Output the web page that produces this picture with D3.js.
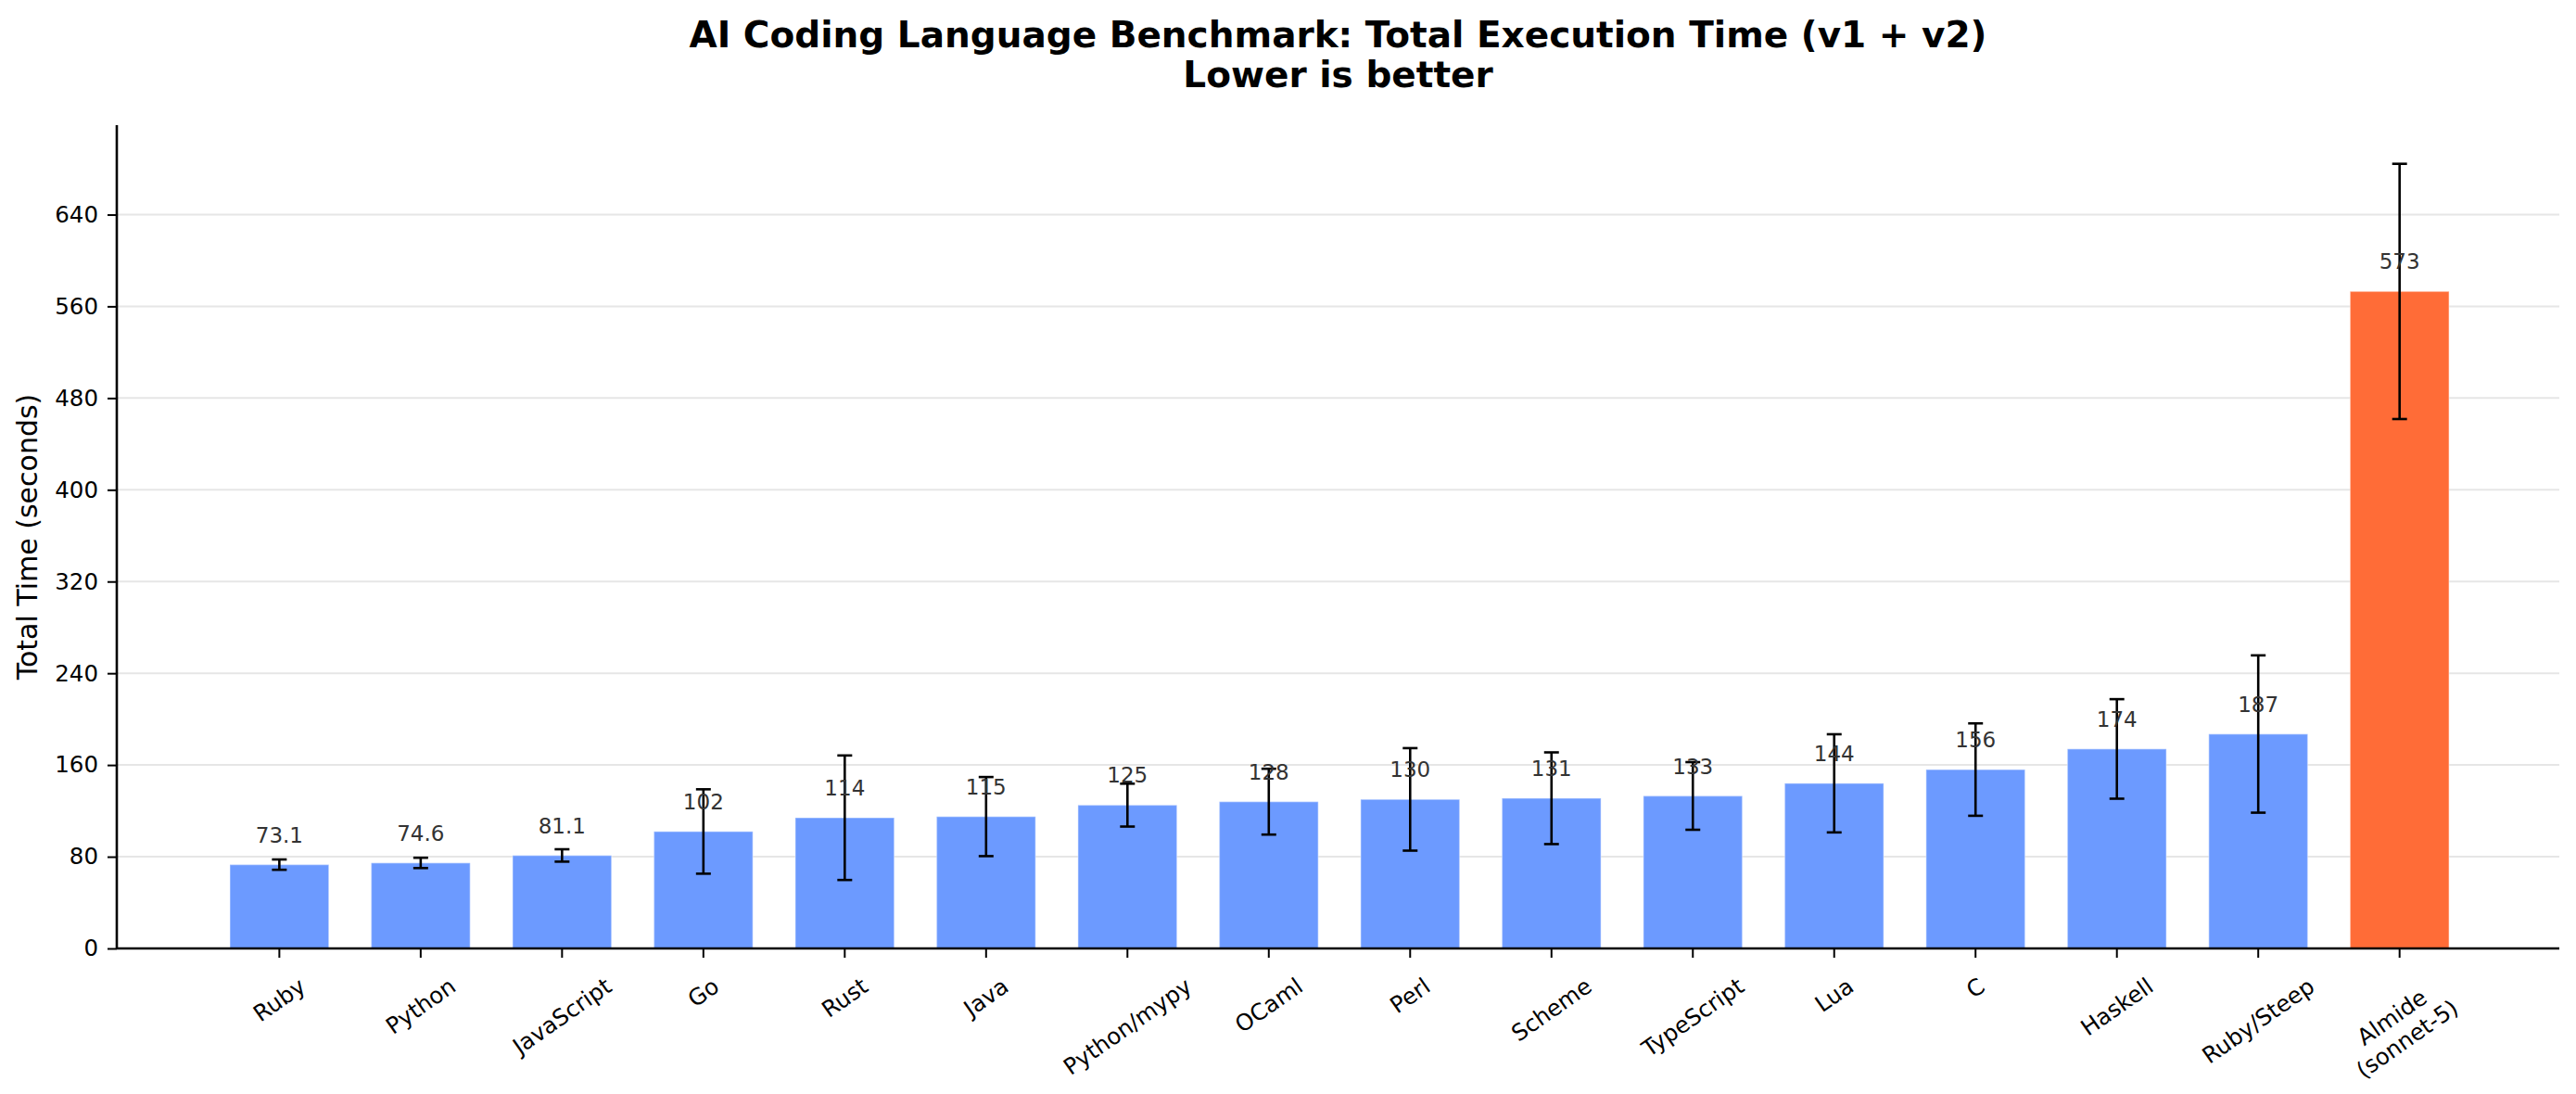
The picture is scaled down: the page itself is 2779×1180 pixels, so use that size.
<!DOCTYPE html>
<html lang="en">
<head>
    <meta charset="UTF-8">
    <title>AI Coding Language Benchmark</title>
    <script src="https://d3js.org/d3.v7.min.js"></script>
    <style>
        body { margin: 0; background: #fff; }
        text { font-family: "DejaVu Sans", sans-serif; }
    </style>
</head>
<body>
    <div id="chart"></div>

    <script>
        // Chart data
        const languages = ["Ruby", "Python", "JavaScript", "Go", "Rust", "Java", "Python/mypy", "OCaml",
                           "Perl", "Scheme", "TypeScript", "Lua", "C", "Haskell", "Ruby/Steep", "Almide\n(sonnet-5)"];
        const totalTimes = [73.1, 74.6, 81.1, 102, 114, 115, 125, 128, 130, 131, 133, 144, 156, 174, 187, 573];
        const errors = [4.5, 4.5, 5.4, 36.8, 54.3, 34.5, 18.7, 28.7, 44.7, 40, 29.5, 42.8, 40.3, 43.4, 68.6, 111.3];
        const yTicks = [0, 80, 160, 240, 320, 400, 480, 560, 640];
        const highlighted = "Almide\n(sonnet-5)";

        const W = 2779, H = 1180;
        const margin = { top: 135, right: 18, bottom: 157, left: 126 };
        const width = W - margin.left - margin.right,
              height = H - margin.top - margin.bottom;

        const svg = d3.select("#chart").append("svg")
            .attr("width", W)
            .attr("height", H);

        const g = svg.append("g")
            .attr("transform", `translate(${margin.left},${margin.top})`);

        // x is a linear scale over bar index (matplotlib-style limits)
        const x = d3.scaleLinear().domain([-1.15, 16.13]).range([0, width]);
        const y = d3.scaleLinear().domain([0, 718]).range([height, 0]);
        const barW = x(0.7) - x(0);

        // Gridlines (behind bars)
        g.append("g").selectAll("line")
            .data(yTicks.slice(1))
            .join("line")
            .attr("x1", 0).attr("x2", width)
            .attr("y1", d => y(d)).attr("y2", d => y(d))
            .attr("stroke", "#e6e6e6")
            .attr("stroke-width", 2);

        // Bars
        g.append("g").selectAll("rect")
            .data(totalTimes)
            .join("rect")
            .attr("x", (d, i) => x(i) - barW / 2)
            .attr("y", d => y(d))
            .attr("width", barW)
            .attr("height", d => y(0) - y(d))
            .attr("fill", (d, i) => languages[i] === highlighted ? "#ff6c37" : "#6c9aff")
            .attr("stroke", "#ffffff")
            .attr("stroke-opacity", 0.35)
            .attr("stroke-width", 1.5);

        // Error bars
        const capHalf = 8;
        const eb = g.append("g").attr("stroke", "#000").attr("stroke-width", 2.6);
        totalTimes.forEach((v, i) => {
            const cx = x(i), lo = y(v - errors[i]), hi = y(v + errors[i]);
            eb.append("line").attr("x1", cx).attr("x2", cx).attr("y1", lo).attr("y2", hi);
            eb.append("line").attr("x1", cx - capHalf).attr("x2", cx + capHalf).attr("y1", lo).attr("y2", lo);
            eb.append("line").attr("x1", cx - capHalf).attr("x2", cx + capHalf).attr("y1", hi).attr("y2", hi);
        });

        // Value labels above each bar
        g.append("g").selectAll("text")
            .data(totalTimes)
            .join("text")
            .attr("x", (d, i) => x(i))
            .attr("y", d => y(d) - 24)
            .attr("text-anchor", "middle")
            .attr("font-size", 23)
            .attr("fill", "#333333")
            .text(d => d < 100 ? d.toFixed(1) : d3.format("d")(d));

        // Y axis
        const yAxis = g.append("g")
            .call(d3.axisLeft(y).tickValues(yTicks).tickSize(10).tickPadding(10).tickFormat(d3.format("d")));
        yAxis.select(".domain").attr("stroke", "#000").attr("stroke-width", 2.6).attr("d", `M0,${height}V0`);
        yAxis.selectAll(".tick line").attr("stroke", "#000").attr("stroke-width", 2);
        yAxis.selectAll(".tick text").attr("font-size", 24.5).attr("fill", "#000")
            .attr("font-family", "DejaVu Sans");

        // X axis line and ticks
        const xAxis = g.append("g").attr("transform", `translate(0,${height})`);
        xAxis.append("line").attr("x1", 0).attr("x2", width)
            .attr("stroke", "#000").attr("stroke-width", 2.6);
        xAxis.selectAll(".xt").data(languages).join("line")
            .attr("x1", (d, i) => x(i)).attr("x2", (d, i) => x(i))
            .attr("y1", 0).attr("y2", 10)
            .attr("stroke", "#000").attr("stroke-width", 2);

        // Rotated x tick labels, centred on the tick (matplotlib ha="center", rotation=35)
        const rot = 35, rad = rot * Math.PI / 180, fs = 24.5, lh = fs * 1.17, topGap = 26;
        languages.forEach((name, i) => {
            const lines = name.split("\n");
            const t = xAxis.append("text")
                .attr("text-anchor", "middle")
                .attr("font-size", fs)
                .attr("fill", "#000");
            lines.forEach((ln, k) => {
                t.append("tspan")
                    .attr("x", 0)
                    .attr("y", (k - (lines.length - 1) / 2) * lh)
                    .attr("dominant-baseline", "central")
                    .text(ln);
            });
            const L = d3.max(t.selectAll("tspan").nodes(), n => n.getComputedTextLength());
            const h = lines.length * lh;
            const bh = L * Math.sin(rad) + h * Math.cos(rad);
            t.attr("transform", `translate(${x(i)},${topGap + bh / 2}) rotate(${-rot})`);
        });

        // Y axis label
        svg.append("text")
            .attr("transform", `translate(40,${margin.top + height / 2}) rotate(-90)`)
            .attr("text-anchor", "middle")
            .attr("font-size", 30)
            .attr("fill", "#000")
            .text("Total Time (seconds)");

        // Title
        const title = svg.append("text")
            .attr("text-anchor", "middle")
            .attr("font-size", 39)
            .attr("font-weight", "bold")
            .attr("fill", "#000");
        title.append("tspan").attr("x", margin.left + width / 2).attr("y", 51)
            .text("AI Coding Language Benchmark: Total Execution Time (v1 + v2)");
        title.append("tspan").attr("x", margin.left + width / 2).attr("y", 94)
            .text("Lower is better");
    </script>
</body>
</html>
